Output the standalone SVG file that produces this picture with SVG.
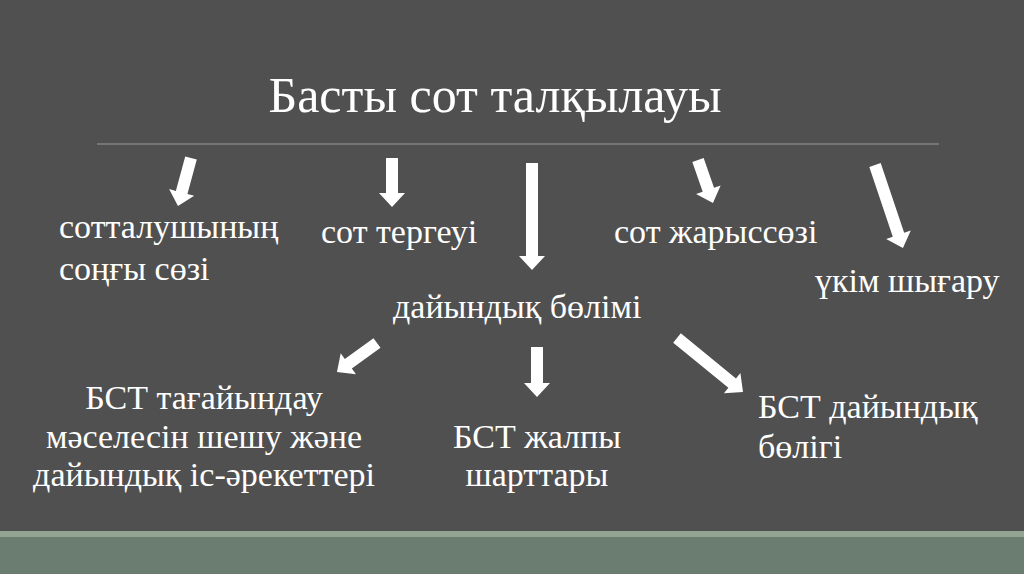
<svg xmlns="http://www.w3.org/2000/svg" width="1024" height="574" viewBox="0 0 1024 574">
<style>
.t{font-family:"Liberation Serif","Times New Roman",serif;fill:#ffffff;font-size:34px}
.title{font-family:"Liberation Serif","Times New Roman",serif;fill:#ffffff;font-size:50px}
.arr{fill:#ffffff}
</style>
<rect x="0" y="0" width="1024" height="574" fill="#505050"/>
<rect x="0" y="531" width="1024" height="6" fill="#93a493"/>
<rect x="0" y="537" width="1024" height="37" fill="#6b7d71"/>
<g id="title">
<text class="title" x="495" y="112" text-anchor="middle">Басты сот талқылауы</text>
<line x1="97" y1="144" x2="939" y2="144" stroke="#9a9a9a" stroke-width="1.2"/>
</g>
<g id="connectors">
<polygon class="arr" transform="translate(191,158) rotate(15.2)" points="-6,0 6,0 6,35.7 13,35.7 0,49.7 -13,35.7 -6,35.7"/>
<polygon class="arr" transform="translate(392,158)" points="-6,0 6,0 6,35 13,35 0,49 -13,35 -6,35"/>
<polygon class="arr" transform="translate(532,163)" points="-6,0 6,0 6,93 13,93 0,107 -13,93 -6,93"/>
<polygon class="arr" transform="translate(698,160) rotate(-19.2)" points="-6,0 6,0 6,31.5 13,31.5 0,45.5 -13,31.5 -6,31.5"/>
<polygon class="arr" transform="translate(875,165) rotate(-18.6)" points="-6,0 6,0 6,73.6 13,73.6 0,87.6 -13,73.6 -6,73.6"/>
<polygon class="arr" transform="translate(377,343) rotate(54.1)" points="-6,0 6,0 6,35.4 13,35.4 0,49.4 -13,35.4 -6,35.4"/>
<polygon class="arr" transform="translate(537,347)" points="-6,0 6,0 6,36 13,36 0,50 -13,36 -6,36"/>
<polygon class="arr" transform="translate(677,338) rotate(-50.7)" points="-6,0 6,0 6,71.3 13,71.3 0,85.3 -13,71.3 -6,71.3"/>
</g>
<g id="n-sotalushy">
<text class="t" x="59" y="238">сотталушының</text>
<text class="t" x="59" y="280">соңғы сөзі</text>
</g>
<g id="n-tergeu">
<text class="t" x="321" y="243">сот тергеуі</text>
</g>
<g id="n-zharys">
<text class="t" x="614" y="243">сот жарыссөзі</text>
</g>
<g id="n-ukim">
<text class="t" x="815" y="292">үкім шығару</text>
</g>
<g id="n-daiyn">
<text class="t" x="393" y="318">дайындық бөлімі</text>
</g>
<g id="n-tagaiyn">
<text class="t" x="204" y="409" text-anchor="middle">БСТ тағайындау</text>
<text class="t" x="204" y="448" text-anchor="middle">мәселесін шешу және</text>
<text class="t" x="204" y="486" text-anchor="middle">дайындық іс-әрекеттері</text>
</g>
<g id="n-zhalpy">
<text class="t" x="537" y="448" text-anchor="middle">БСТ жалпы</text>
<text class="t" x="537" y="486" text-anchor="middle">шарттары</text>
</g>
<g id="n-boligi">
<text class="t" x="758" y="418">БСТ дайындық</text>
<text class="t" x="758" y="458">бөлігі</text>
</g>
</svg>
